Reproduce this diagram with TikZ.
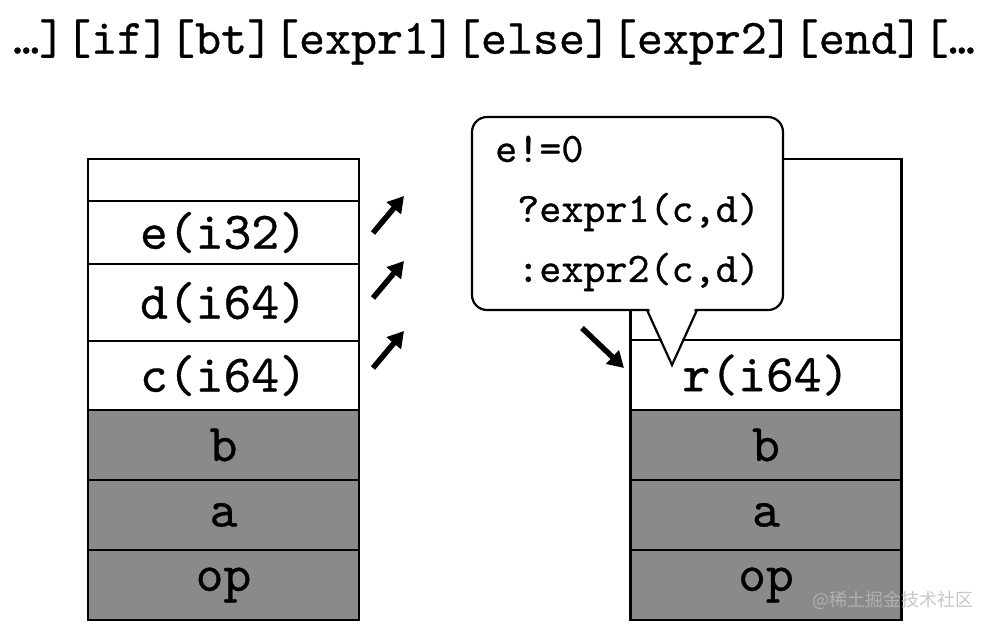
\documentclass[tikz,border=0pt]{standalone}
\usepackage{fontspec}
\newfontfamily\codefont{lmmono10-regular}[Extension=.otf, FakeBold=0.6]
\newfontfamily\cjkfont{Noto Sans CJK SC}
\usetikzlibrary{positioning,arrows.meta}
\definecolor{slotGray}{RGB}{138,138,138}
\definecolor{markGray}{RGB}{185,185,185}

\tikzset{
  slot/.style={draw, line width=2.2pt, minimum width=271pt, inner sep=0pt, outer sep=0pt,
    font=\codefont\fontsize{53}{53}\selectfont},
  argslot/.style={slot, fill=slotGray},
  hint/.style={line width=5.5pt, -{Triangle[length=16pt,width=18pt]}},
}

\begin{document}
\begin{tikzpicture}[x=1pt, y=-1pt]
\useasboundingbox (0,0) rectangle (992,630);

% byte stream
\node[font=\codefont\fontsize{49.5}{49.5}\selectfont] (code) at (494,42) {…][if][bt][expr1][else][expr2][end][…};

% stack before
\node[slot, minimum height=42, anchor=north] (l0) at (223.5,159) {};
\node[slot, minimum height=63, below=0pt of l0] (le) {e(i32)};
\node[slot, minimum height=77, below=0pt of le] (ld) {d(i64)};
\node[slot, minimum height=69, below=0pt of ld] (lc) {c(i64)};
\node[argslot, minimum height=70, below=0pt of lc] (lb) {b};
\node[argslot, minimum height=70, below=0pt of lb] (la) {a};
\node[argslot, minimum height=70, below=0pt of la] (lop) {op};

% stack after
\node[slot, minimum height=181, anchor=north] (r0) at (766,159) {};
\node[slot, minimum height=70, below=0pt of r0] (rr) {r(i64)};
\node[argslot, minimum height=70, below=0pt of rr] (rb) {b};
\node[argslot, minimum height=70, below=0pt of rb] (ra) {a};
\node[argslot, minimum height=70, below=0pt of ra] (rop) {op};

% pops and push
\coordinate (pe0) at (373,233); \coordinate (pe1) at (404,196);
\coordinate (pd0) at (373,298); \coordinate (pd1) at (404,261);
\coordinate (pc0) at (373,368); \coordinate (pc1) at (404,331);
\draw[hint] (pe0) -- (pe1);
\draw[hint] (pd0) -- (pd1);
\draw[hint] (pc0) -- (pc1);
\coordinate (push0) at (582,328); \coordinate (push1) at (624,368);
\draw[hint] (push0) -- (push1);

% speech bubble
\node[draw, line width=2.2pt, fill=white, rounded corners=15pt, minimum width=311pt,
  minimum height=193pt, align=left, font=\codefont\fontsize{42}{60}\selectfont]
  (cond) at (627.5,213.5) {e!=0\\\hspace*{0.525em}?expr1(c,d)\\\hspace*{0.525em}:expr2(c,d)};
\coordinate (tip) at (672,365);
\fill[white] (648,306) -- (696,306) -- (tip) -- cycle;
\draw[line width=2.2pt, line join=miter] (647,310) -- (tip) -- (697,310);

% watermark
\node[font=\cjkfont\fontsize{18}{18}\selectfont, text=markGray, text opacity=0.8, anchor=west]
  (mark) at (809,600) {@稀土掘金技术社区};
\end{tikzpicture}
\end{document}
